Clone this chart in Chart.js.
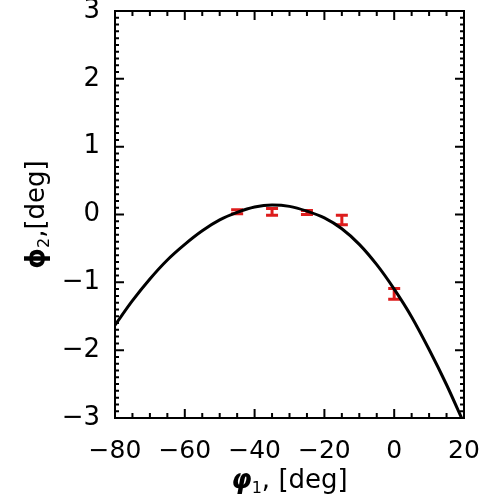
<!DOCTYPE html>
<html>
<head>
<meta charset="utf-8">
<script src="https://cdn.jsdelivr.net/npm/chart.js@4.4.1/dist/chart.umd.min.js"></script>
<style>
    html, body { margin: 0; padding: 0; background: #ffffff; }
    #wrap { width: 484px; height: 504px; }
</style>
</head>
<body>
<div id="wrap"><canvas id="streamChart"></canvas></div>
<script>
// ================= Data =================
// fitted orbit track
const curvePhi1 = [-80, -75, -70, -65, -60, -55, -50, -45, -40, -35, -30, -25, -20, -15, -10, -5, 0, 5, 10, 15, 20];
const curvePhi2 = [-1.63, -1.27, -0.95, -0.67, -0.44, -0.24, -0.08, 0.03, 0.11, 0.14, 0.12, 0.05, -0.05, -0.21, -0.44, -0.74, -1.10, -1.51, -1.99, -2.51, -3.08];

// measured stream positions with errors
const obsPhi1 = [-45, -35, -25, -15, 0];
const obsPhi2 = [0.04, 0.04, 0.03, -0.08, -1.17];
const obsErr = [0.03, 0.05, 0.03, 0.07, 0.08];

// axes
const xRange = [-80, 20];
const yRange = [-3, 3];
const xMajor = 20, xMinor = 5;
const yMajor = 1, yMinor = 0.1;

Chart.defaults.font.family = "'DejaVu Sans', sans-serif";
Chart.defaults.color = "#000000";

const fmtTick = v => v < 0 ? "\u2212" + Math.abs(v) : String(v);

// ================= Error bars =================
const errorBars = {
    id: "errorBars",
    beforeDatasetsDraw(chart) {
        const { ctx, scales: { x, y } } = chart;
        ctx.save();
        ctx.strokeStyle = "#dd1c1c";
        ctx.lineWidth = 3;
        obsPhi1.forEach((p, i) => {
            const px = x.getPixelForValue(p);
            const lo = y.getPixelForValue(obsPhi2[i] - obsErr[i]);
            const hi = y.getPixelForValue(obsPhi2[i] + obsErr[i]);
            ctx.beginPath();
            ctx.moveTo(px, lo); ctx.lineTo(px, hi);
            ctx.moveTo(px - 6, lo); ctx.lineTo(px + 6, lo);
            ctx.moveTo(px - 6, hi); ctx.lineTo(px + 6, hi);
            ctx.stroke();
        });
        ctx.restore();
    }
};

// ================= Frame + inward ticks =================
const frameTicks = {
    id: "frameTicks",
    afterDraw(chart) {
        const { ctx, chartArea: a, scales: { x, y } } = chart;
        ctx.save();
        ctx.strokeStyle = "#000000";
        ctx.lineWidth = 2;
        ctx.strokeRect(a.left, a.top, a.right - a.left, a.bottom - a.top);
        ctx.beginPath();
        // x ticks, bottom and top
        for (let v = xRange[0]; v <= xRange[1] + 1e-9; v += xMinor) {
            const px = x.getPixelForValue(v);
            const len = Math.abs(v % xMajor) < 1e-6 ? 9 : 5;
            ctx.moveTo(px, a.bottom); ctx.lineTo(px, a.bottom - len);
            ctx.moveTo(px, a.top); ctx.lineTo(px, a.top + len);
        }
        // y ticks, left and right
        for (let k = 0; k <= Math.round((yRange[1] - yRange[0]) / yMinor); k++) {
            const v = yRange[0] + k * yMinor;
            const py = y.getPixelForValue(v);
            const len = k % Math.round(yMajor / yMinor) === 0 ? 9 : 4;
            ctx.moveTo(a.left, py); ctx.lineTo(a.left + len, py);
            ctx.moveTo(a.right, py); ctx.lineTo(a.right - len, py);
        }
        ctx.stroke();

        // axis titles
        ctx.fillStyle = "#000000";
        ctx.textBaseline = "alphabetic";
        const drawTitle = (phi, phiFont, sub, rest, cx, baseY) => {
            const parts = [
                { t: phi, f: phiFont, dy: 0 },
                { t: sub, f: "16px 'DejaVu Sans'", dy: 5 },
                { t: rest, f: "26px 'DejaVu Sans'", dy: 0 }
            ];
            let w = 0;
            parts.forEach(p => { ctx.font = p.f; p.w = ctx.measureText(p.t).width; w += p.w; });
            let xx = cx - w / 2;
            parts.forEach(p => { ctx.font = p.f; ctx.fillText(p.t, xx, baseY + p.dy); xx += p.w; });
        };
        drawTitle("\u03c6", "italic bold 26px 'DejaVu Sans'", "1", ", [deg]", (a.left + a.right) / 2, 488);
        ctx.save();
        ctx.translate(44, (a.top + a.bottom) / 2);
        ctx.rotate(-Math.PI / 2);
        drawTitle("\u03d5", "bold 26px 'DejaVu Sans'", "2", ",[deg]", 0, 0);
        ctx.restore();
        ctx.restore();
    }
};

// ================= Chart =================
new Chart(document.getElementById("streamChart"), {
    type: "line",
    data: {
        datasets: [{
            data: curvePhi1.map((p, i) => ({ x: p, y: curvePhi2[i] })),
            borderColor: "#000000",
            borderWidth: 3,
            pointRadius: 0,
            cubicInterpolationMode: "monotone",
            fill: false
        }, {
            type: "scatter",
            data: obsPhi1.map((p, i) => ({ x: p, y: obsPhi2[i] })),
            pointRadius: 0,
            showLine: false
        }]
    },
    options: {
        responsive: true,
        maintainAspectRatio: false,
        animation: false,
        layout: { padding: { top: 11, right: 20, left: 0, bottom: 0 } },
        plugins: {
            legend: { display: false },
            tooltip: { enabled: false }
        },
        scales: {
            x: {
                type: "linear",
                min: xRange[0],
                max: xRange[1],
                grid: { display: false, drawTicks: false },
                border: { display: false },
                ticks: {
                    stepSize: xMajor,
                    padding: 18,
                    font: { size: 25 },
                    callback: fmtTick
                },
                afterFit: s => { s.height = 86; s.paddingLeft = 0; s.paddingRight = 0; }
            },
            y: {
                type: "linear",
                min: yRange[0],
                max: yRange[1],
                grid: { display: false, drawTicks: false },
                border: { display: false },
                ticks: {
                    stepSize: yMajor,
                    padding: 15,
                    font: { size: 26 },
                    callback: fmtTick
                },
                afterFit: s => { s.width = 115; s.paddingTop = 0; s.paddingBottom = 0; }
            }
        }
    },
    plugins: [errorBars, frameTicks]
});
</script>
</body>
</html>
